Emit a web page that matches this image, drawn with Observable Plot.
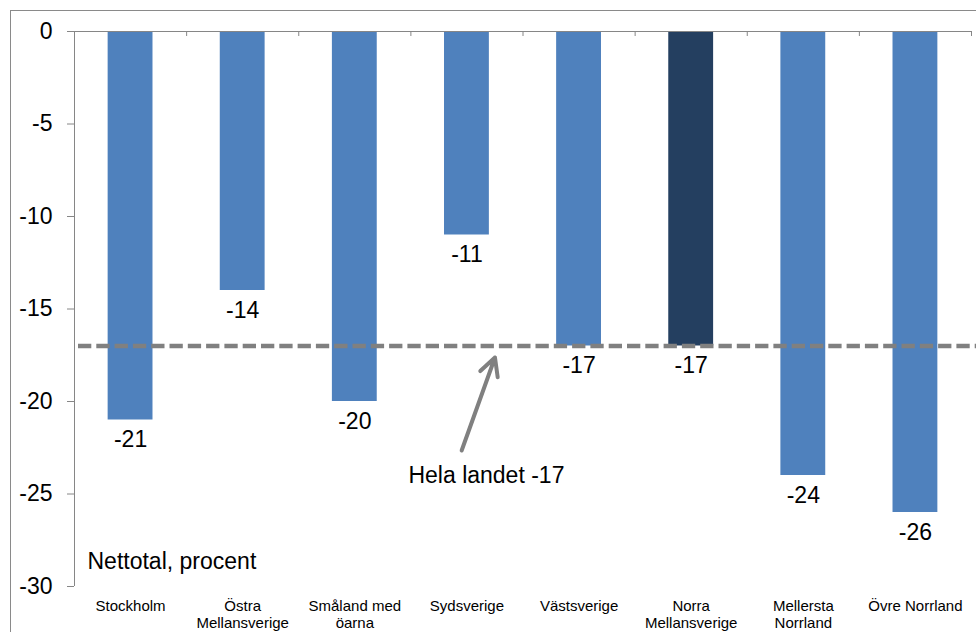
<!DOCTYPE html>
<html>
<head>
<meta charset="utf-8">
<script src="https://cdn.jsdelivr.net/npm/d3@7"></script>
<script src="https://cdn.jsdelivr.net/npm/@observablehq/plot@0.6"></script>
<style>
  html, body { margin: 0; padding: 0; background: white; overflow: hidden; }
  #chart { position: absolute; left: 0; top: 0; }
  #frame { position: absolute; left: 10px; top: 10px; width: 2000px; height: 2000px;
           border: 1px solid #8a8a8a; pointer-events: none; box-sizing: border-box; }
</style>
</head>
<body>
<div id="chart"></div>
<div id="frame"></div>
<script>
// ---- data ----
const categories = ["Stockholm", "Östra Mellansverige", "Småland med öarna", "Sydsverige",
                    "Västsverige", "Norra Mellansverige", "Mellersta Norrland", "Övre Norrland"];
const tickLabels = ["Stockholm", "Östra\nMellansverige", "Småland med\nöarna", "Sydsverige",
                    "Västsverige", "Norra\nMellansverige", "Mellersta\nNorrland", "Övre Norrland"];
const values = [-21, -14, -20, -11, -17, -17, -24, -26];
const highlighted = "Norra Mellansverige";
const nationalValue = -17;
const yTicks = [0, -5, -10, -15, -20, -25, -30];
const unitLabel = "Nettotal, procent";
const nationalLabel = "Hela landet " + nationalValue;

// annotation anchors in data units (x = category index)
const arrowFrom = {x: 2.953, y: -22.65};
const arrowTo = {x: 3.25, y: -17.62};
const nationalLabelPos = {x: 3.174, y: -24};
const unitLabelPos = {x: -0.384, y: -28.63};

const data = categories.map((c, i) => ({i, category: c, label: tickLabels[i], value: values[i]}));
const boundaries = d3.range(categories.length + 1).map(i => i - 0.5);

const blue = "#4F81BD", dark = "#243F60", axisGrey = "#868686", dashGrey = "#808080";

const plot = Plot.plot({
  width: 976,
  height: 632,
  marginLeft: 74,
  marginRight: 5,
  marginTop: 31,
  marginBottom: 46,
  style: {fontFamily: "'Liberation Sans', Arial, sans-serif", color: "black"},
  x: {type: "linear", domain: [-0.5, categories.length - 0.5], axis: null},
  y: {domain: [-30, 0], axis: null},
  marks: [
    Plot.rectY(data, {
      x1: d => d.i - 0.2, x2: d => d.i + 0.2, y1: 0, y2: "value",
      fill: d => d.category === highlighted ? dark : blue
    }),
    Plot.ruleY([0], {stroke: axisGrey}),
    Plot.ruleX([-0.5], {y1: 0, y2: -30, stroke: axisGrey}),
    Plot.ruleX(boundaries, {y1: 0, y2: -0.27, stroke: axisGrey}),
    Plot.axisY(yTicks, {
      tickSize: 7, tickPadding: 15, fontSize: 23, stroke: axisGrey,
      tickFormat: d => String(d), label: null
    }),
    Plot.ruleY([nationalValue], {
      stroke: dashGrey, strokeWidth: 4.5, strokeDasharray: "13.3,5",
      insetLeft: 4, insetRight: -5
    }),
    Plot.text(data, {x: "i", y: "value", text: d => String(d.value), dy: 20, fontSize: 23, fill: "black"}),
    Plot.text(data, {
      x: "i", text: "label", frameAnchor: "bottom", lineAnchor: "top",
      dy: 12, fontSize: 15, lineHeight: 17 / 15, fill: "black"
    }),
    Plot.arrow([{a: arrowFrom, b: arrowTo}], {
      x1: d => d.a.x, y1: d => d.a.y, x2: d => d.b.x, y2: d => d.b.y,
      stroke: dashGrey, strokeWidth: 4, headLength: 7.5, headAngle: 55
    }),
    Plot.text([nationalLabel], {x: nationalLabelPos.x, y: nationalLabelPos.y, text: d => d, fontSize: 23, fill: "black"}),
    Plot.text([unitLabel], {x: unitLabelPos.x, y: unitLabelPos.y, text: d => d, textAnchor: "start", fontSize: 23, fill: "black"})
  ]
});
document.getElementById("chart").appendChild(plot);
</script>
</body>
</html>
